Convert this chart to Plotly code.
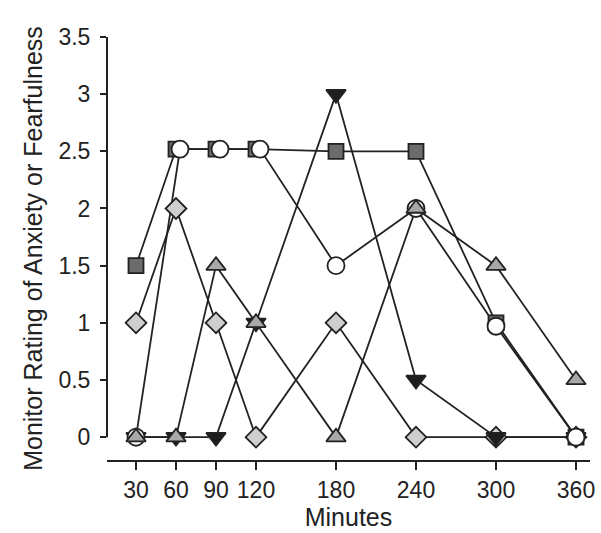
import plotly.graph_objects as go

minutes = [30, 60, 90, 120, 180, 240, 300, 360]
tick_labels = ["30", "60", "90", "120", "180", "240", "300", "360"]
y_ticks = [0, 0.5, 1, 1.5, 2, 2.5, 3, 3.5]
y_tick_labels = ["0", "0.5", "1", "1.5", "2", "2.5", "3", "3.5"]

diamond_vals = [1.0, 2.0, 1.0, 0.0, 1.0, 0.0, 0.0, 0.0]
tri_down_vals = [0.0, 0.0, 0.0, 1.0, 3.0, 0.5, 0.0, 0.0]
square_vals = [1.5, 2.52, 2.52, 2.52, 2.5, 2.5, 1.0, 0.0]
circle_vals = [0.0, 2.52, 2.52, 2.52, 1.5, 2.0, 0.97, 0.0]
tri_up_vals = [0.0, 0.0, 1.5, 1.0, 0.0, 2.0, 1.5, 0.5]

# circles sit slightly right of the squares in the original
circle_x = [30, 63, 93, 123, 180, 240, 300, 360]

LINE = "#222222"

series = [
    (minutes, diamond_vals, "diamond", "#cfcfcf", 16),
    (minutes, tri_down_vals, "triangle-down", "#1e1e1e", 17),
    (minutes, square_vals, "square", "#6c6c6c", 15),
    (circle_x, circle_vals, "circle", "#ffffff", 17),
    (minutes, tri_up_vals, "triangle-up", "#a8a8a8", 17),
]

fig = go.Figure()
for xs, ys, sym, col, sz in series:
    fig.add_trace(go.Scatter(x=xs, y=ys, mode="lines",
                             line=dict(color=LINE, width=1.8),
                             showlegend=False, hoverinfo="skip"))
for xs, ys, sym, col, sz in series:
    fig.add_trace(go.Scatter(x=xs, y=ys, mode="markers",
                             marker=dict(symbol=sym, size=sz, color=col,
                                         line=dict(color=LINE, width=1.8)),
                             showlegend=False, cliponaxis=False))

fig.update_layout(
    width=601, height=533,
    margin=dict(l=107, r=11, t=37, b=73),
    paper_bgcolor="white", plot_bgcolor="white",
    font=dict(family="Liberation Sans, Arial, sans-serif", size=23, color="#222222"),
    showlegend=False,
    xaxis=dict(range=[8.25, 370.5], tickvals=minutes, ticktext=tick_labels,
               showline=True, linecolor=LINE, linewidth=2,
               ticks="outside", ticklen=8, tickwidth=2, tickcolor=LINE,
               tickfont=dict(size=23),
               showgrid=False, zeroline=False, automargin=False,
               title=dict(text="Minutes", standoff=2, font=dict(size=25))),
    yaxis=dict(range=[-0.2, 3.5], tickvals=y_ticks, ticktext=y_tick_labels,
               showline=False, ticks="outside", ticklen=6, tickwidth=2, tickcolor=LINE,
               tickfont=dict(size=23), ticklabelstandoff=5,
               showgrid=False, zeroline=False, automargin=False,
               title=dict(text="Monitor Rating of Anxiety or Fearfulness", standoff=8,
                          font=dict(size=25))),
)
fig.add_shape(type="line", xref="paper", yref="y", x0=0, x1=0, y0=0, y1=3.5,
              line=dict(color=LINE, width=2))

fig.write_html("out.html", config={"displayModeBar": False},
               post_script="document.body.style.margin='0';document.body.style.overflow='hidden';")
